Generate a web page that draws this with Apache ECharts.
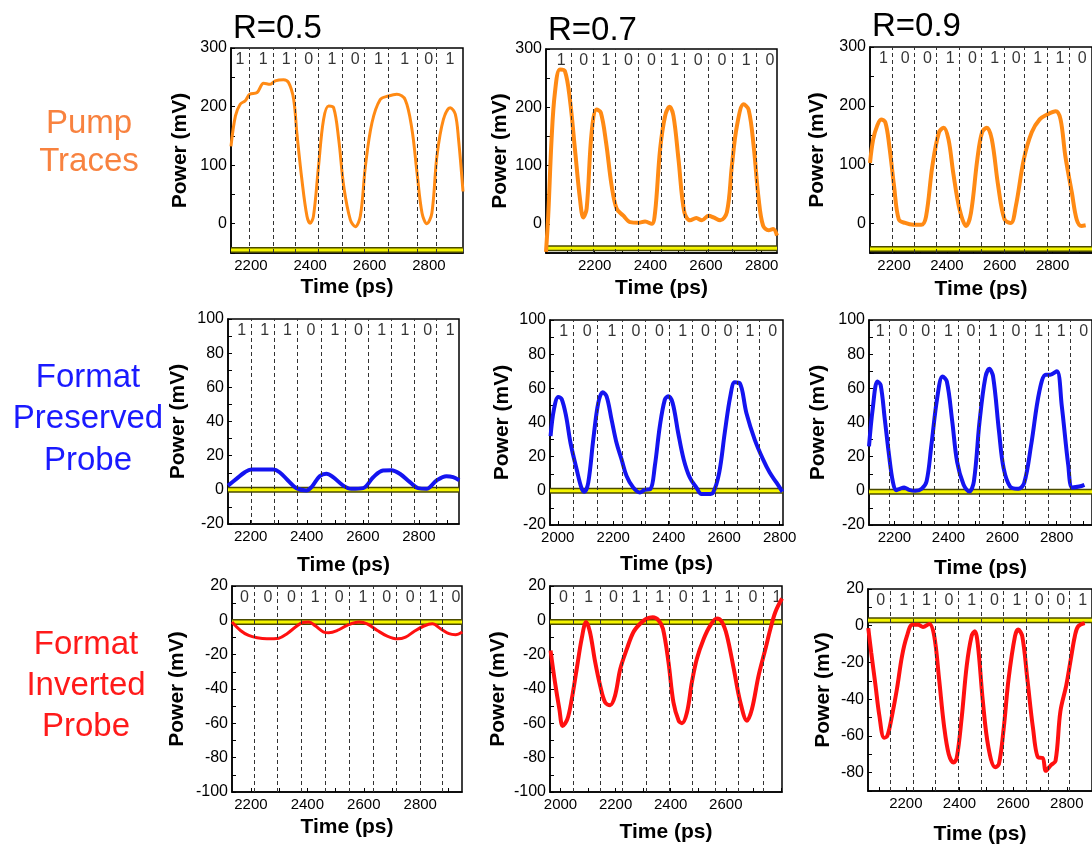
<!DOCTYPE html>
<html><head><meta charset="utf-8">
<script src="https://cdn.jsdelivr.net/npm/echarts@6/dist/echarts.min.js"></script>
<style>html,body{margin:0;padding:0;background:#fff}#c{width:1092px;height:846px}</style>
</head><body><div id="c"></div>
<script>
// ---------- DATA ----------
const pumpR05 = [[2133,132],[2148,184],[2164,204],[2181,210],[2196,221],[2221,224],[2243,240],[2265,238],[2282,244],[2310,246],[2327,241],[2344,213],[2355,155],[2372,75],[2389,13],[2400,1],[2411,13],[2428,98],[2445,178],[2462,201],[2479,198],[2496,144],[2513,64],[2535,7],[2552,-5],[2569,13],[2586,98],[2608,172],[2636,212],[2664,218],[2692,221],[2720,212],[2743,161],[2760,87],[2777,18],[2793,0],[2810,18],[2827,115],[2849,178],[2872,198],[2889,187],[2900,144],[2915,55]];
const pumpR07 = [[2025,-48],[2033,14],[2045,145],[2057,225],[2075,265],[2093,262],[2111,213],[2129,128],[2147,43],[2159,11],[2171,26],[2189,157],[2207,196],[2222,191],[2241,139],[2261,65],[2279,26],[2303,14],[2327,3],[2357,2],[2381,4],[2405,0],[2417,20],[2435,128],[2453,185],[2469,201],[2483,185],[2501,111],[2522,20],[2543,6],[2565,10],[2585,6],[2609,14],[2627,11],[2651,6],[2675,20],[2693,100],[2711,168],[2735,205],[2753,196],[2771,134],[2789,43],[2805,-3],[2825,-11],[2841,-9],[2855,-20]];
const pumpR09 = [[2109,103],[2121,143],[2136,166],[2151,177],[2167,172],[2182,132],[2200,64],[2218,7],[2242,1],[2273,-2],[2303,-2],[2321,12],[2345,98],[2370,155],[2388,163],[2406,143],[2424,86],[2448,24],[2473,-4],[2491,18],[2515,109],[2533,155],[2551,163],[2570,143],[2594,64],[2618,7],[2642,1],[2661,30],[2691,109],[2721,155],[2751,177],[2782,186],[2812,191],[2830,177],[2848,115],[2873,52],[2891,7],[2909,-4],[2925,-3]];
const presR05 = [[2119,2.5],[2149,6.4],[2179,10.3],[2202,11.9],[2232,11.9],[2280,11.9],[2303,10.3],[2333,5.5],[2363,1],[2399,-0.4],[2417,1.6],[2446,8],[2470,9.4],[2494,7.4],[2530,2.5],[2559,0.6],[2601,1],[2637,7.4],[2672,11.3],[2702,11.5],[2732,9.4],[2768,4.5],[2797,1],[2827,0.6],[2863,5.5],[2898,8],[2922,7.4],[2944,5.5]];
const presR07 = [[1974,32],[1986,47.6],[2002,55],[2014,53.8],[2030,43.7],[2046,28],[2068,12.6],[2086,1.4],[2096,-0.6],[2110,4.9],[2128,30],[2146,51.5],[2162,57.7],[2176,55.3],[2194,41.7],[2212,28],[2230,18.4],[2248,8.7],[2272,1.9],[2296,-1],[2314,0.6],[2334,1],[2350,14.6],[2368,37.9],[2386,53.4],[2398,55.3],[2414,51.5],[2434,34],[2454,18.4],[2476,7.8],[2500,1.9],[2518,-1.9],[2542,-1.9],[2560,-1],[2582,10.7],[2602,34],[2622,55.3],[2638,63.5],[2656,63],[2680,45.6],[2710,30],[2740,18.4],[2764,10.7],[2788,4.9],[2810,-0.6]];
const presR09 = [[2106,26],[2120,48.4],[2137,64],[2149,62],[2164,42.5],[2180,21],[2194,5.5],[2206,0.4],[2220,1.2],[2236,2],[2254,0.6],[2277,0],[2301,1.2],[2319,5.5],[2337,27],[2358,54],[2378,67],[2394,64],[2414,40.6],[2432,17],[2456,3.5],[2477,-0.4],[2494,5.5],[2515,40.6],[2536,66],[2551,71.4],[2565,67],[2587,34.7],[2604,13.3],[2628,2.5],[2658,1.2],[2680,4.5],[2706,27],[2736,58],[2760,68],[2777,68],[2801,70],[2819,50],[2843,15.2],[2858,2],[2884,2.5],[2903,3.5]];
const invR05 = [[2133,-1],[2163,-5.9],[2192,-8.8],[2222,-10.2],[2257,-10.8],[2299,-10.4],[2328,-7.8],[2358,-3.9],[2381,-1.4],[2405,-1],[2429,-3.3],[2458,-6.8],[2476,-7.2],[2506,-5.9],[2541,-2.9],[2583,-1],[2612,-2],[2648,-5.9],[2683,-9.2],[2719,-10.8],[2748,-9.8],[2778,-6.5],[2813,-3.3],[2843,-2],[2872,-4.9],[2902,-7.8],[2925,-8.4],[2949,-6.8]];
const invR07 = [[1964,-17.6],[1980,-36],[1996,-51.7],[2008,-61.5],[2025,-57.6],[2041,-45.9],[2059,-28.3],[2077,-10.7],[2093,-1],[2107,-6.8],[2126,-24.4],[2144,-38],[2162,-47.8],[2180,-49.4],[2198,-43.9],[2217,-28.3],[2241,-16.6],[2265,-6.8],[2289,-2],[2313,1],[2335,1.8],[2356,0],[2372,-4.9],[2392,-24.4],[2410,-47.8],[2429,-58.5],[2441,-59.9],[2459,-53.7],[2477,-36],[2495,-22.4],[2520,-10.7],[2544,-2.9],[2568,1],[2586,-1],[2604,-8.8],[2629,-28.3],[2653,-47.8],[2677,-58.5],[2695,-51.7],[2719,-32.2],[2744,-16.6],[2762,-4.9],[2780,4.9],[2804,12.7]];
const invR09 = [[2060,-1.3],[2071,-14.6],[2087,-32.5],[2101,-48.6],[2119,-61],[2131,-60],[2149,-48.6],[2167,-34.3],[2186,-16.4],[2204,-5.7],[2224,0.5],[2246,0.5],[2264,-0.7],[2288,1],[2306,-5.7],[2324,-29],[2342,-54],[2360,-70],[2378,-74.5],[2390,-71.8],[2408,-50.4],[2427,-21.8],[2445,-5.7],[2457,-3],[2469,-11],[2487,-41],[2508,-66.4],[2533,-77],[2547,-75.4],[2565,-55.7],[2583,-29],[2607,-5.7],[2619,-2.1],[2634,-5.7],[2653,-29],[2674,-55.7],[2694,-71.8],[2710,-72],[2722,-79],[2740,-76],[2758,-73.6],[2776,-46.8],[2798,-32.5],[2815,-18.2],[2830,-5.7],[2842,-0.4],[2867,1.4]];

// bit patterns written in each panel
const bitsPumpR05 = [1,1,1,0,1,0,1,1,0,1];
const bitsPumpR07 = [1,0,1,0,0,1,0,0,1,0];
const bitsPumpR09 = [1,0,0,1,0,1,0,1,1,0];
const bitsPresR05 = [1,1,1,0,1,0,1,1,0,1];
const bitsPresR07 = [1,0,1,0,0,1,0,0,1,0];
const bitsPresR09 = [1,0,0,1,0,1,0,1,1,0];
const bitsInvR05  = [0,0,0,1,0,1,0,0,1,0];
const bitsInvR07  = [0,1,0,1,1,0,1,1,0,1];
const bitsInvR09  = [0,1,1,0,1,0,1,0,0,1];

// bit-slot boundaries (dashed lines), ps
const edgesPumpR05 = [2196,2274,2350,2426,2507,2583,2664,2760,2825];
const edgesPumpR07 = [2114,2193,2273,2355,2439,2522,2607,2693,2781];
const edgesPumpR09 = [2194,2276,2361,2448,2531,2616,2693,2778,2863];
const edgesPresR05 = [2202,2283,2365,2450,2536,2619,2702,2785,2863];
const edgesPresR07 = [2056,2142,2234,2316,2402,2484,2566,2646,2726];
const edgesPresR09 = [2182,2268,2349,2436,2515,2601,2684,2768,2851];
const edgesInvR05  = [2212,2295,2378,2464,2547,2632,2716,2799,2878];
const edgesInvR07  = [2047,2144,2226,2310,2396,2480,2562,2647,2735];
const edgesInvR09  = [2141,2228,2310,2396,2481,2565,2649,2730,2810];

// reference (yellow) level in each panel, mV
const refLevels = [-45,-42,-43, 0,0,-0.5, -1,-1,3];

// axis ranges and tick labels
const xRanges = [[2133,2915],[2025,2855],[2109,2949],[2119,2943],[1972,2812],[2106,2931],[2133,2948],[1962,2804],[2059,2894]];
const xLabels = [[2200,2400,2600,2800],[2200,2400,2600,2800],[2200,2400,2600,2800],
                 [2200,2400,2600,2800],[2000,2200,2400,2600,2800],[2200,2400,2600,2800],
                 [2200,2400,2600,2800],[2000,2200,2400,2600],[2200,2400,2600,2800]];
const yRanges = [[-50,300],[-50,300],[-50,300],[-20,100],[-20,100],[-20,100],[-100,20],[-100,20],[-90,20]];
const yLabelsPump = [0,100,200,300];
const yLabelsPres = [-20,0,20,40,60,80,100];
const yLabelsInv  = [-100,-80,-60,-40,-20,0,20];
const yLabelsInv9 = [-80,-60,-40,-20,0,20];

const colTitles = ['R=0.5','R=0.7','R=0.9'];
const rowTitles = ['Pump\nTraces','Format\nPreserved\nProbe','Format\nInverted\nProbe'];

// ---------- LAYOUT / STYLE ----------
const FONT = '"Liberation Sans", Arial, sans-serif';
const layout = [
 {left:231, top:48, width:232, height:205, yGap:40, xGap:24},
 {left:546, top:49, width:231, height:204, yGap:35, xGap:25},
 {left:870, top:47, width:231, height:206, yGap:42, xGap:26},
 {left:228, top:319, width:231, height:205, yGap:39, xGap:31},
 {left:550, top:320, width:233, height:205, yGap:37, xGap:29},
 {left:869, top:320, width:231, height:205, yGap:40, xGap:33},
 {left:232, top:586, width:230, height:206, yGap:44, xGap:25},
 {left:550, top:586, width:232, height:206, yGap:41, xGap:30},
 {left:868, top:589, width:231, height:205, yGap:34, xGap:33}
];
const curves = [pumpR05,pumpR07,pumpR09,presR05,presR07,presR09,invR05,invR07,invR09];
const bits = [bitsPumpR05,bitsPumpR07,bitsPumpR09,bitsPresR05,bitsPresR07,bitsPresR09,bitsInvR05,bitsInvR07,bitsInvR09];
const edges = [edgesPumpR05,edgesPumpR07,edgesPumpR09,edgesPresR05,edgesPresR07,edgesPresR09,edgesInvR05,edgesInvR07,edgesInvR09];
const yLabels = [yLabelsPump,yLabelsPump,yLabelsPump,yLabelsPres,yLabelsPres,yLabelsPres,yLabelsInv,yLabelsInv,yLabelsInv9];
const colors = ['#ff8a14','#ff8a14','#ff8a14','#1414f0','#1414f0','#1414f0','#ff1010','#ff1010','#ff1010'];
const widths = [3,4,4,4,4,4,3,4,4];
const rowColors = ['#f8823f','#1a1aff','#ff1a1a'];

function stepTicks(min,max,step){const a=[];for(let v=Math.ceil(min/step)*step;v<=max+1e-9;v+=step)a.push(v);return a;}

const grid=[],xAxis=[],yAxis=[],series=[];
for(let i=0;i<9;i++){
  const L=layout[i],[x0,x1]=xRanges[i],[y0,y1]=yRanges[i];
  grid.push({left:L.left,top:L.top,width:L.width,height:L.height,show:true,borderColor:'#000',borderWidth:1.5,backgroundColor:'transparent'});
  xAxis.push({type:'value',gridIndex:i,min:x0,max:x1,
    name:'Time (ps)',nameLocation:'middle',nameGap:L.xGap,
    nameTextStyle:{fontFamily:FONT,fontWeight:'bold',fontSize:21,color:'#000'},
    axisLine:{show:true,onZero:false,lineStyle:{color:'#000',width:1.5}},
    axisTick:{show:true,inside:true,length:4,customValues:stepTicks(x0,x1,100),lineStyle:{color:'#000'}},
    axisLabel:{show:true,customValues:xLabels[i],formatter:v=>String(v),fontFamily:FONT,fontSize:15,color:'#000',margin:5},
    splitLine:{show:false}});
  const yStep = (y1-y0)>200?50:10;
  yAxis.push({type:'value',gridIndex:i,min:y0,max:y1,
    name:'Power (mV)',nameLocation:'middle',nameGap:L.yGap,
    nameTextStyle:{fontFamily:FONT,fontWeight:'bold',fontSize:21,color:'#000'},
    axisLine:{show:true,onZero:false,lineStyle:{color:'#000',width:1.5}},
    axisTick:{show:true,inside:true,length:4,customValues:stepTicks(y0,y1,yStep),lineStyle:{color:'#000'}},
    axisLabel:{show:true,customValues:yLabels[i],formatter:v=>String(v),fontFamily:FONT,fontSize:16,color:'#000',margin:4},
    splitLine:{show:false}});
  // bit labels + dashed boundaries
  const e=edges[i], p=(e[e.length-1]-e[0])/(e.length-1);
  const centers=[e[0]-p/2];
  for(let k=1;k<e.length;k++)centers.push((e[k-1]+e[k])/2);
  centers.push(e[e.length-1]+p/2);
  series.push({type:'scatter',xAxisIndex:i,yAxisIndex:i,symbolSize:0,clip:false,silent:true,z:2,
    data:centers.map((c,k)=>[c,y1,bits[i][k]]),
    label:{show:true,position:'inside',offset:[2,12],formatter:q=>String(q.value[2]),fontFamily:FONT,fontSize:16,color:'#000'},
    markLine:{silent:true,symbol:['none','none'],label:{show:false},animation:false,
      lineStyle:{type:[4,3],color:'#333',width:1},
      data:e.map(v=>({xAxis:v}))}});
  // reference yellow line
  series.push({type:'line',xAxisIndex:i,yAxisIndex:i,symbol:'none',silent:true,z:3,
    data:[[x0,refLevels[i]],[x1,refLevels[i]]],lineStyle:{color:'#4a4a00',width:6}});
  series.push({type:'line',xAxisIndex:i,yAxisIndex:i,symbol:'none',silent:true,z:3,
    data:[[x0,refLevels[i]],[x1,refLevels[i]]],lineStyle:{color:'#f4f400',width:3}});
  // trace
  series.push({type:'line',xAxisIndex:i,yAxisIndex:i,symbol:'none',smooth:0.35,z:4,
    data:curves[i],lineStyle:{color:colors[i],width:widths[i]}});
}

const graphic=[];
const titleX=[233,548,872], titleY=[29,31,27];
colTitles.forEach((t,k)=>graphic.push({type:'text',x:titleX[k],y:titleY[k],
  style:{text:t,fill:'#000',font:'33px '+FONT,textAlign:'left',textVerticalAlign:'middle'}}));
const rowX=[89,88,86], rowY=[143,419,686], rowLH=[38,41.5,41];
rowTitles.forEach((t,k)=>graphic.push({type:'text',x:rowX[k],y:rowY[k],
  style:{text:t,fill:rowColors[k],font:'33px '+FONT,textAlign:'center',textVerticalAlign:'middle',lineHeight:rowLH[k]}}));

const chart=echarts.init(document.getElementById('c'),null,{renderer:'canvas'});
chart.setOption({animation:false,backgroundColor:'#fff',grid,xAxis,yAxis,series,graphic});
</script></body></html>
